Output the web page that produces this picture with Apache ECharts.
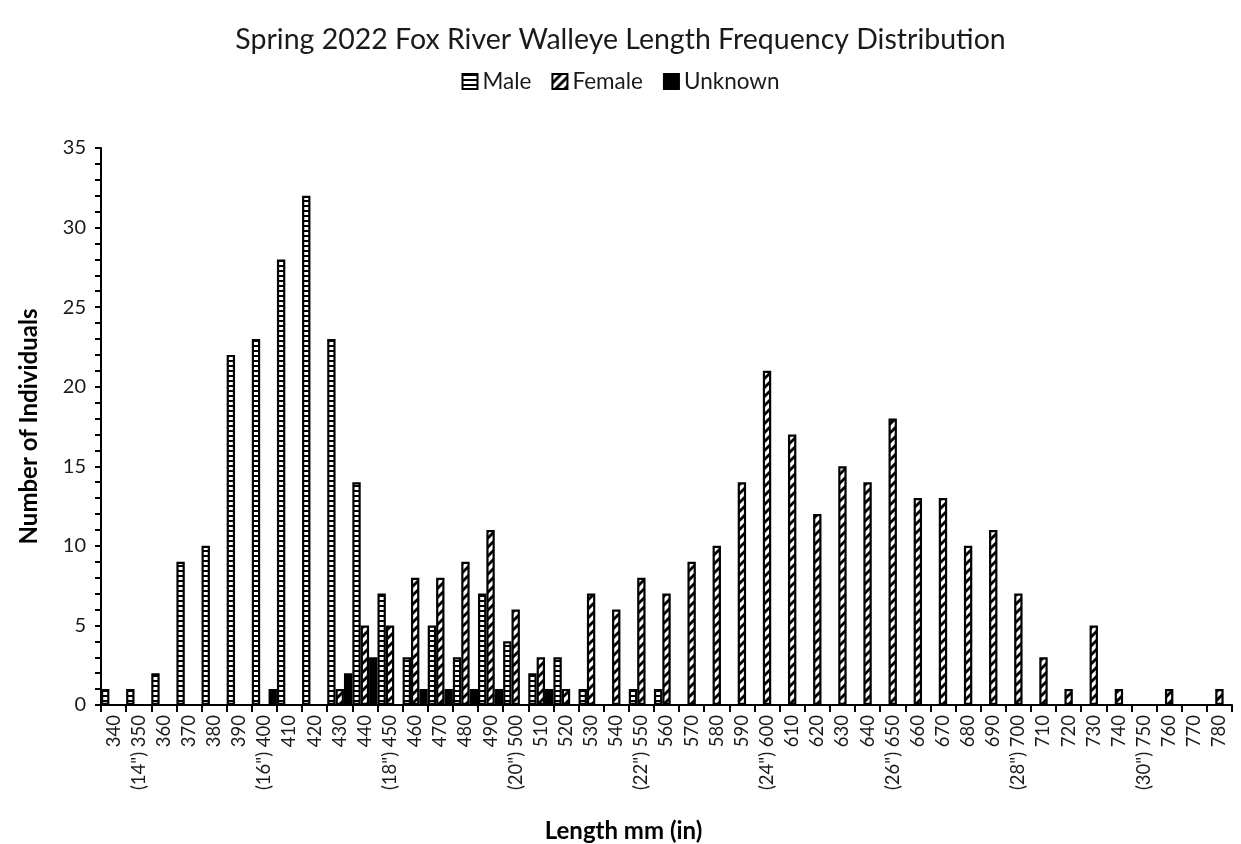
<!DOCTYPE html>
<html>
<head>
<meta charset="utf-8">
<script src="https://cdn.jsdelivr.net/npm/echarts@6/dist/echarts.min.js"></script>
<style>
html,body{margin:0;padding:0;background:#fff;}
#chart{width:1241px;height:844px;}
</style>
</head>
<body>
<div id="chart"></div>
<script>
const lengths = [340,350,360,370,380,390,400,410,420,430,440,450,460,470,480,490,500,510,520,530,540,550,560,570,580,590,600,610,620,630,640,650,660,670,680,690,700,710,720,730,740,750,760,770,780];
const inchMarks = {350:'(14")',400:'(16")',450:'(18")',500:'(20")',550:'(22")',600:'(24")',650:'(26")',700:'(28")',750:'(30")'};
const maleCounts = [1,1,2,9,10,22,23,28,32,23,14,7,3,5,3,7,4,2,3,1,0,1,1,0,0,0,0,0,0,0,0,0,0,0,0,0,0,0,0,0,0,0,0,0,0];
const femaleCounts = [0,0,0,0,0,0,0,0,0,1,5,5,8,8,9,11,6,3,1,7,6,8,7,9,10,14,21,17,12,15,14,18,13,13,10,11,7,3,1,5,1,0,1,0,1];
const unknownCounts = [0,0,0,0,0,0,1,0,0,2,3,0,1,1,1,1,0,1,0,0,0,0,0,0,0,0,0,0,0,0,0,0,0,0,0,0,0,0,0,0,0,0,0,0,0];
const yTicks = {min:0, max:35, step:5};

const categories = lengths.map(v => inchMarks[v] ? inchMarks[v] + ' ' + v : String(v));

function malePattern(){
  const c = document.createElement('canvas');
  c.width = 10; c.height = 5;
  const g = c.getContext('2d');
  g.fillStyle = '#fff'; g.fillRect(0,0,10,5);
  g.fillStyle = '#000'; g.fillRect(0,0,10,2);
  return {image:c, repeat:'repeat'};
}
function femalePattern(){
  const c = document.createElement('canvas');
  const s = 9;
  c.width = s; c.height = s;
  const g = c.getContext('2d');
  g.fillStyle = '#fff'; g.fillRect(0,0,s,s);
  g.strokeStyle = '#000'; g.lineWidth = 2.8;
  for (const o of [-s,0,s]){
    g.beginPath(); g.moveTo(o-1, s+1); g.lineTo(o+s+1, -1); g.stroke();
  }
  return {image:c, repeat:'repeat'};
}

const font = 'Lato, "Open Sans", sans-serif';
const chart = echarts.init(document.getElementById('chart'), null, {renderer:'canvas'});
const barStyle = (fill) => ({color: fill, borderColor:'#000', borderWidth:2.2});

chart.setOption({
  animation:false,
  backgroundColor:'#fff',
  title:{
    text:'Spring 2022 Fox River Walleye Length Frequency Distribution',
    left:'center', top:20,
    textStyle:{fontFamily:font, fontSize:28.5, fontWeight:'normal', color:'#1a1a1a'}
  },
  legend:{
    top:65, left:'center',
    itemWidth:15, itemHeight:15, itemGap:20,
    icon:'rect',
    textStyle:{fontFamily:font, fontSize:22.5, color:'#1a1a1a', padding:[0,0,0,0]},
    data:['Male','Female','Unknown']
  },
  grid:{left:101, right:9, top:148, bottom:139, containLabel:false, outerBoundsMode:'none'},
  xAxis:{
    type:'category',
    data:categories,
    name:'Length mm (in)',
    nameLocation:'middle',
    nameGap:114,
    nameTextStyle:{fontFamily:font, fontSize:24, fontWeight:'bold', color:'#000', padding:[0,86,0,0]},
    axisLine:{lineStyle:{color:'#000', width:2}},
    axisTick:{show:true, length:7, lineStyle:{color:'#000', width:2}},
    axisLabel:{interval:0, rotate:90, margin:10, fontFamily:font, fontSize:18.5, color:'#1a1a1a'},
    splitLine:{show:false}
  },
  yAxis:{
    type:'value',
    min:yTicks.min, max:yTicks.max, interval:yTicks.step,
    name:'Number of Individuals',
    nameLocation:'middle',
    nameGap:60,
    nameTextStyle:{fontFamily:font, fontSize:24, fontWeight:'bold', color:'#000'},
    axisLine:{show:true, lineStyle:{color:'#000', width:2}},
    axisTick:{show:true, length:6, lineStyle:{color:'#000', width:2}},
    minorTick:{show:true, splitNumber:5, length:6, lineStyle:{color:'#000', width:2}},
    axisLabel:{margin:15, fontFamily:font, fontSize:20, color:'#1a1a1a'},
    splitLine:{show:false}
  },
  series:[
    {name:'Male', type:'bar', data:maleCounts, barGap:'0%', barCategoryGap:'0%', itemStyle:barStyle(malePattern())},
    {name:'Female', type:'bar', data:femaleCounts, barGap:'0%', barCategoryGap:'0%', itemStyle:barStyle(femalePattern())},
    {name:'Unknown', type:'bar', data:unknownCounts, barGap:'0%', barCategoryGap:'0%', itemStyle:barStyle('#000')}
  ]
});
</script>
</body>
</html>
